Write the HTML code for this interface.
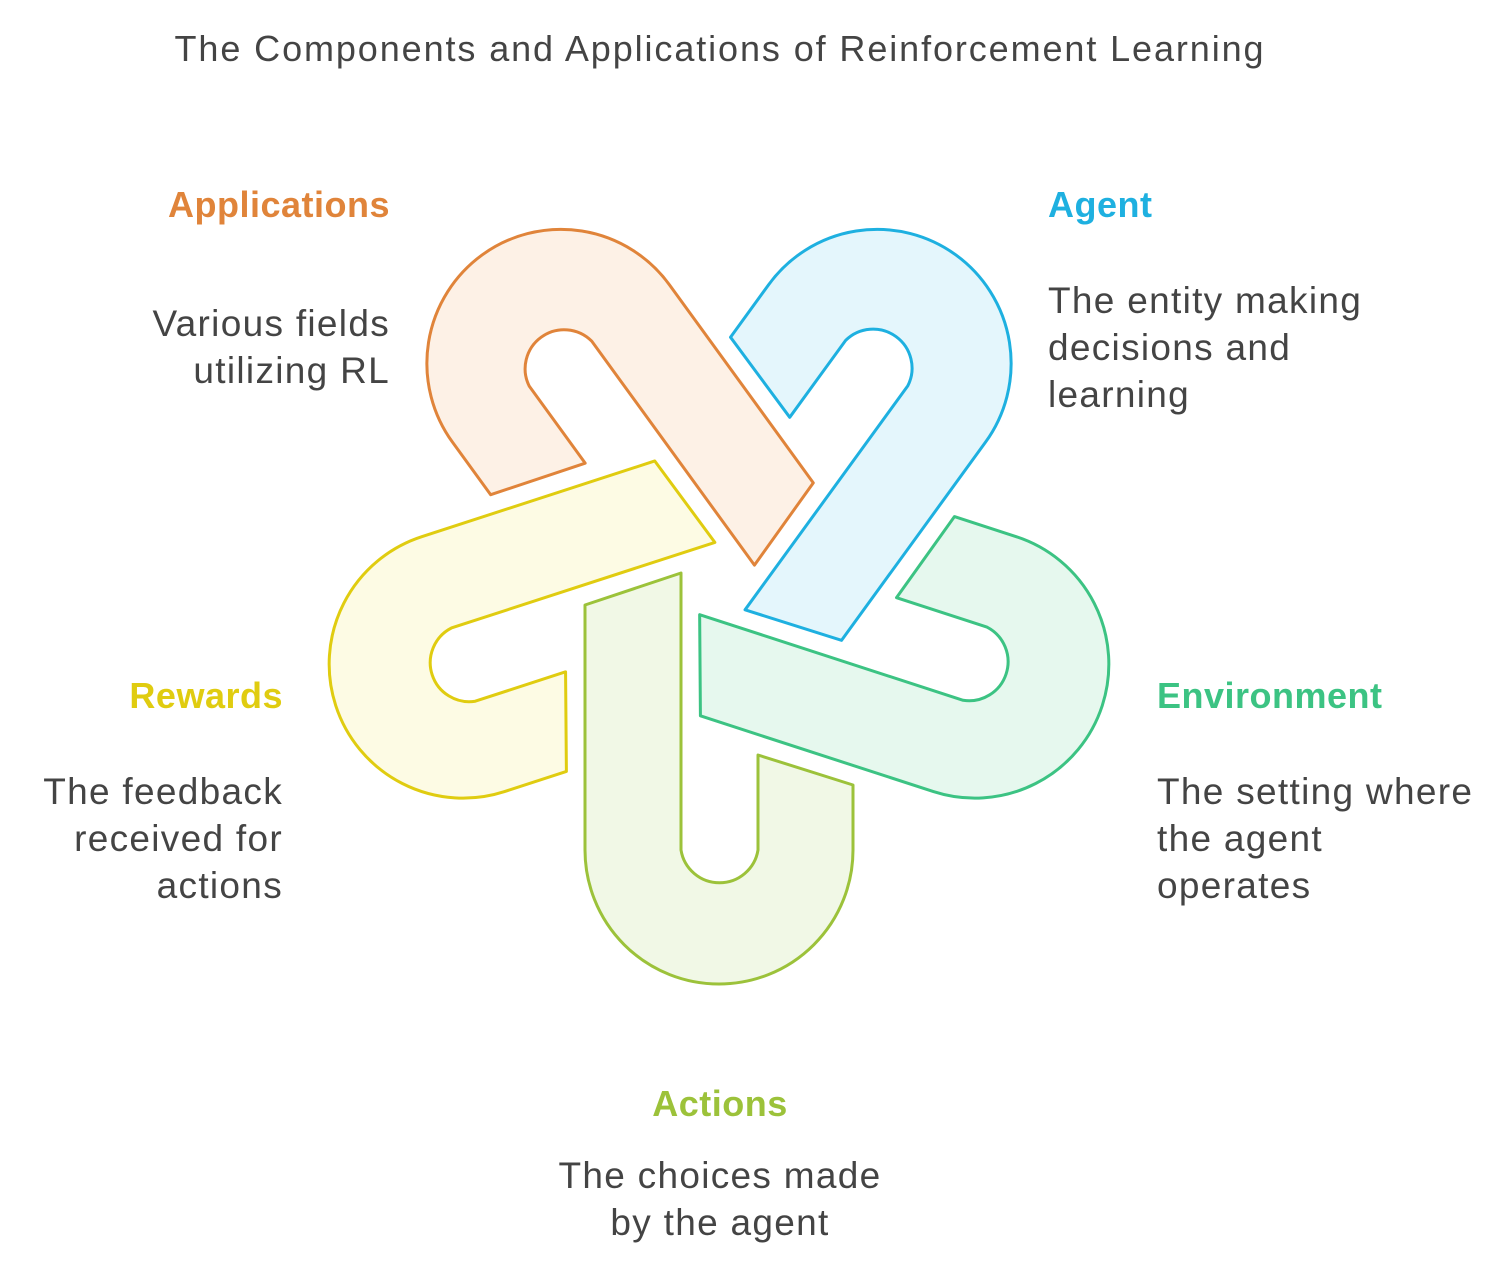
<!DOCTYPE html>
<html><head><meta charset="utf-8"><style>
body{margin:0;background:#fff;}
svg{display:block;font-family:"Liberation Sans",sans-serif;}
.t{font-size:37px;fill:#444;letter-spacing:1.3px;}
.h{font-size:36px;font-weight:bold;letter-spacing:0.5px;}
</style></head><body>
<svg width="1512" height="1272" viewBox="0 0 1512 1272">
<text x="720" y="61" text-anchor="middle" class="t" style="font-size:36px;letter-spacing:1.9px">The Components and Applications of Reinforcement Learning</text>
<g id="shapes"></g>
<g id="labels"></g>
</svg>
<script>
const names=["Actions","Environment","Agent","Applications","Rewards"];
const rotations=[0,-72,-144,-216,-288];
const strokes=["#9CC23A","#3CC383","#1EB0E0","#E0843A","#E0CC10"];
const fills=["#F1F8E6","#E6F8EE","#E4F6FC","#FDF1E6","#FDFBE4"];
const descs=[["The choices made","by the agent"],["The setting where","the agent","operates"],["The entity making","decisions and","learning"],["Various fields","utilizing RL"],["The feedback","received for","actions"]];
const labelPos=[[720,1116,"middle",1188],[1157,708,"start",804],[1048,217,"start",313],[390,217,"end",336],[283,708,"end",804]];
const C=[719,581];
const d="M-134,24 L-134,269 A134,134 0 0 0 134,269 L134,204 L39,174 L39,269 A39,39 0 0 1 -38,269 L-38,-8 Z";
const NS="http://www.w3.org/2000/svg";
const gs=document.getElementById('shapes'), gl=document.getElementById('labels');
names.forEach((n,i)=>{
  const p=document.createElementNS(NS,'path');
  p.setAttribute('d',d);
  p.setAttribute('transform',`translate(${C[0]},${C[1]}) rotate(${rotations[i]})`);
  p.setAttribute('fill',fills[i]);p.setAttribute('stroke',strokes[i]);
  p.setAttribute('stroke-width','3');p.setAttribute('stroke-linejoin','round');
  
  
  gs.appendChild(p);
  const [x,y,a,dy]=labelPos[i];
  const h=document.createElementNS(NS,'text');
  h.setAttribute('x',x);h.setAttribute('y',y);h.setAttribute('text-anchor',a);
  h.setAttribute('class','h');h.setAttribute('fill',strokes[i]);h.textContent=n;
  
  
  gl.appendChild(h);
  descs[i].forEach((line,j)=>{
    const t=document.createElementNS(NS,'text');
    t.setAttribute('x',x);t.setAttribute('y',dy+j*47);t.setAttribute('text-anchor',a);
    t.setAttribute('class','t');t.textContent=line;
    
    
    gl.appendChild(t);
  });
});
</script>
</body></html>
